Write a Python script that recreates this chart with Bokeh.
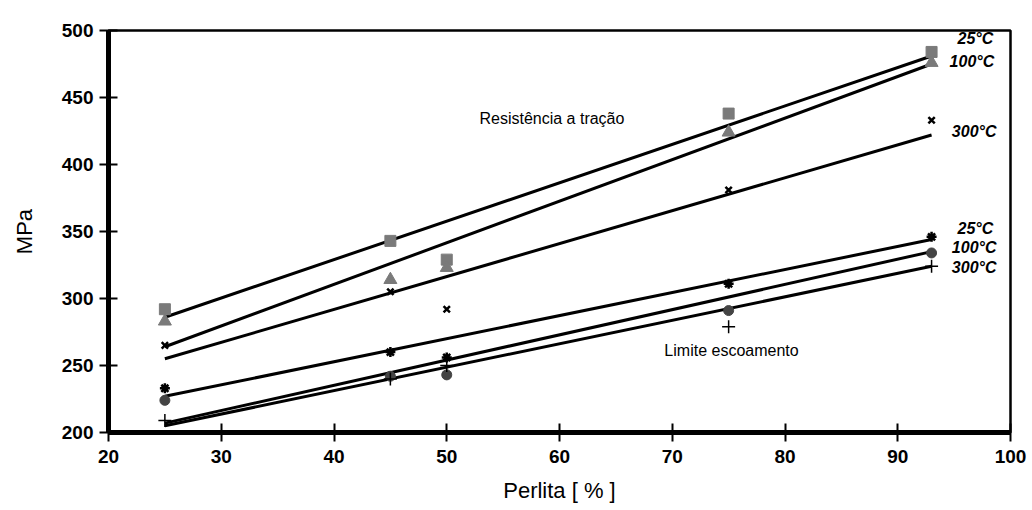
from bokeh.plotting import figure
from bokeh.models import Label, FixedTicker, Range1d, Span
from bokeh.embed import file_html
from bokeh.resources import INLINE

perlita = [25, 45, 50, 75, 93]

# Resistência a tração
rt_25 = [292, 343, 329, 438, 484]
rt_100 = [283, 314, 323, 424, 476]
rt_300 = [265, 305, 292, 381, 433]

# Limite escoamento
le_25 = [233, 260, 256, 311, 346]
le_100 = [224, 242, 243, 291, 334]
le_300 = [209, 240, 250, 279, 324]

# fitted trend lines (value at the first and last perlita)
fit_x = [25, 93]
fit_rt_25 = [286, 481]
fit_rt_100 = [264, 475]
fit_rt_300 = [255, 422]
fit_le_25 = [227, 344]
fit_le_100 = [207, 335]
fit_le_300 = [205, 324]

x_ticks = [20, 30, 40, 50, 60, 70, 80, 90, 100]
y_ticks = [200, 250, 300, 350, 400, 450, 500]

p = figure(width=1032, height=510, output_backend="svg", toolbar_location=None,
           x_range=Range1d(20, 100), y_range=Range1d(200, 500),
           min_border_left=108, min_border_right=22, min_border_top=30, min_border_bottom=78)
p.xgrid.visible = False
p.ygrid.visible = False
p.outline_line_color = "black"
p.outline_line_width = 2.5
p.background_fill_color = "white"
p.border_fill_color = "white"

for ax in (p.xaxis[0], p.yaxis[0]):
    ax.axis_line_width = 5
    ax.axis_line_color = "black"
    ax.major_tick_line_width = 2
    ax.major_tick_line_color = "black"
    ax.major_tick_in = 9
    ax.major_tick_out = 9
    ax.minor_tick_line_color = None
    ax.major_label_text_font = "Liberation Sans"
    ax.major_label_text_font_style = "bold"
    ax.major_label_text_font_size = "19px"
    ax.major_label_text_color = "black"
    ax.axis_label_text_font = "Liberation Sans"
    ax.axis_label_text_font_style = "normal"
    ax.axis_label_text_font_size = "22px"
    ax.axis_label_text_color = "black"
p.xaxis.ticker = FixedTicker(ticks=x_ticks)
p.yaxis.ticker = FixedTicker(ticks=y_ticks)
p.xaxis.axis_label = "Perlita [ % ]"
p.yaxis.axis_label = "MPa"
p.xaxis.major_label_standoff = 8
p.yaxis.major_label_standoff = 6
p.xaxis.axis_label_standoff = 12
p.yaxis.axis_label_standoff = 22

# heavy left and bottom axis lines
p.add_layout(Span(location=x_ticks[0], dimension="height", line_color="black", line_width=5))
p.add_layout(Span(location=y_ticks[0], dimension="width", line_color="black", line_width=5))

lw = 3
for fy in (fit_rt_25, fit_rt_100, fit_rt_300, fit_le_25, fit_le_100, fit_le_300):
    p.line(fit_x, fy, line_color="black", line_width=lw)

p.scatter(perlita, rt_25, marker="square", size=11, fill_color="#7a7a7a", line_color="#7a7a7a")
p.scatter(perlita, rt_100, marker="triangle", size=13, fill_color="#7a7a7a", line_color="#7a7a7a")
p.scatter(perlita, rt_300, marker="x", size=9, line_color="black", line_width=2.5)
p.scatter(perlita, le_25, marker="asterisk", size=10, line_color="black", line_width=2.5)
p.scatter(perlita, le_100, marker="circle", size=10, fill_color="#444444", line_color="#444444")
p.scatter(perlita, le_300, marker="cross", size=13, line_color="black", line_width=1.5)

def lab(x, y, t, bold=True, size="16px"):
    p.add_layout(Label(x=x, y=y, text=t, text_font="Liberation Sans",
                       text_font_style="bold italic" if bold else "normal",
                       text_font_size=size, text_baseline="middle", text_color="black"))

lab(95.3, 494, "25°C")
lab(94.6, 477, "100°C")
lab(94.8, 425, "300°C")
lab(95.3, 352, "25°C")
lab(94.8, 338, "100°C")
lab(94.8, 323, "300°C")
lab(52.9, 434, "Resistência a tração", bold=False, size="16px")
lab(69.3, 261, "Limite escoamento", bold=False, size="16px")

open("out.html", "w").write(file_html(p, INLINE))
